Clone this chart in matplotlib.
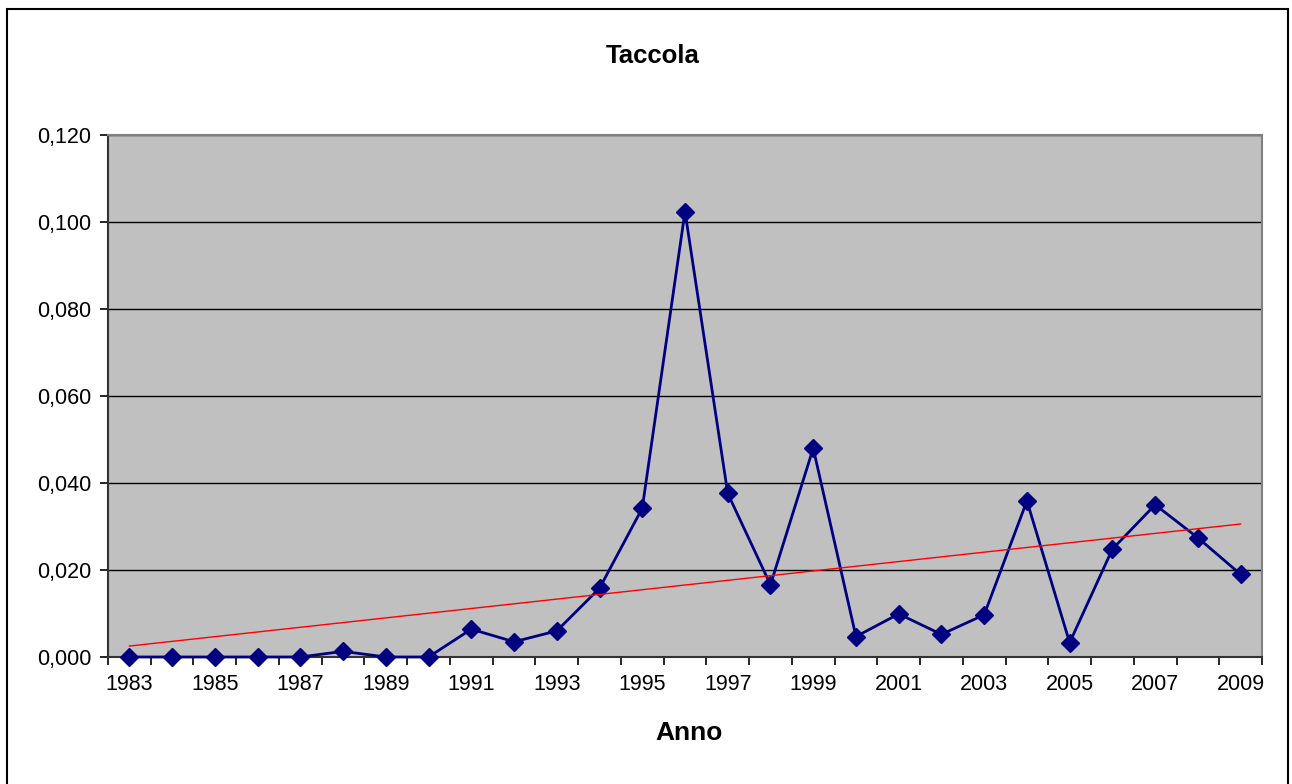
import matplotlib.pyplot as plt
import numpy as np
from matplotlib.patches import Rectangle
from matplotlib.ticker import FuncFormatter, MultipleLocator

plt.rcParams["font.family"] = ["Liberation Sans", "DejaVu Sans"]

years = list(range(1983, 2010))
values = [0.0, 0.0, 0.0, 0.0, 0.0, 0.0013, 0.0, 0.0, 0.0064, 0.0035,
          0.0060, 0.0158, 0.0342, 0.1024, 0.0376, 0.0166, 0.0480, 0.0047,
          0.0099, 0.0052, 0.0097, 0.0359, 0.0033, 0.0248, 0.0350, 0.0274,
          0.0190]
tick_labels = [str(y) if (y - 1983) % 2 == 0 else "" for y in years]

fig = plt.figure(figsize=(12.92, 7.84), dpi=100)
ax = fig.add_axes([108 / 1292, 1 - 657 / 784, 1154 / 1292, 522 / 784])
ax.set_facecolor("#c0c0c0")

x = np.arange(len(years))
ax.plot(x, values, color="#000080", linewidth=2.0, marker="D", markersize=9,
        zorder=3, clip_on=False)

# linear trend line
slope, intercept = np.polyfit(x, values, 1)
ax.plot(x, slope * x + intercept, color="#ff0000", linewidth=1.0, zorder=4)

ax.set_xlim(-0.5, len(years) - 0.5)
ax.set_ylim(0, 0.12)
ax.yaxis.set_major_locator(MultipleLocator(0.02))
ax.yaxis.set_major_formatter(FuncFormatter(lambda v, p: f"{v:.3f}".replace(".", ",")))
ax.grid(axis="y", color="black", linewidth=1.0)
ax.set_axisbelow(True)

ax.set_xticks(x)
ax.set_xticklabels(tick_labels)
ax.set_xticks(np.arange(-0.5, len(years)), minor=True)
ax.tick_params(axis="x", which="major", length=0, labelsize=15.5, pad=12)
ax.tick_params(axis="x", which="minor", length=6, width=1.2, direction="out")
ax.tick_params(axis="y", length=6, width=1.2, labelsize=15.5, pad=6)

for side in ["left", "bottom"]:
    ax.spines[side].set_color("#333333")
    ax.spines[side].set_linewidth(1.5)
for side in ["top", "right"]:
    ax.spines[side].set_color("#808080")
    ax.spines[side].set_linewidth(1.5)

fig.text(653 / 1292, 1 - 56 / 784, "Taccola", ha="center", va="center",
         fontsize=18.5, fontweight="bold")
fig.text(689 / 1292, 1 - 733 / 784, "Anno", ha="center", va="center",
         fontsize=19, fontweight="bold")

fig.patches.append(Rectangle((7 / 1292, -0.02), 1281 / 1292, 1 - 9 / 784 + 0.02,
                             transform=fig.transFigure, fill=False,
                             edgecolor="black", linewidth=1.5))

fig.savefig("out.png", dpi=100)
plt.close(fig)
